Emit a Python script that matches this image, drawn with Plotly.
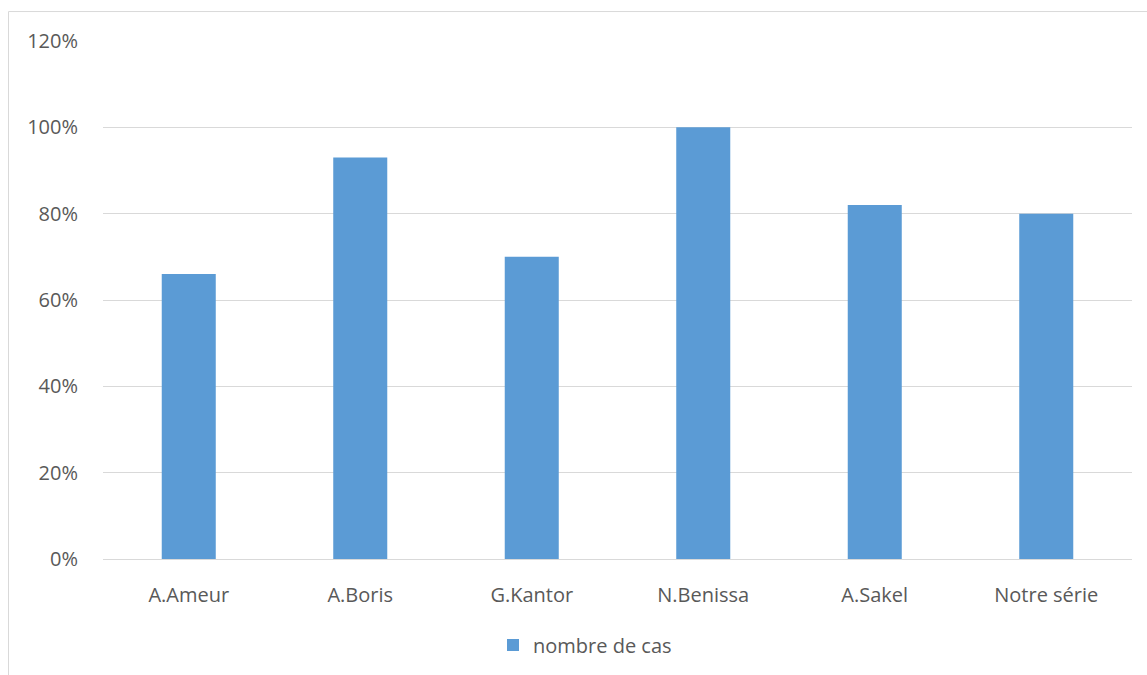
import plotly.graph_objects as go

categories = ["A.Ameur", "A.Boris", "G.Kantor", "N.Benissa", "A.Sakel", "Notre série"]
values = [0.66, 0.93, 0.70, 1.00, 0.82, 0.80]
series_name = "nombre de cas"

W, H = 1147, 675
L, R, T, B = 103, 15, 41, 115
font_family = "Open Sans, Liberation Sans, sans-serif"
txt = "#595959"
FS = 20

fig = go.Figure()
fig.add_trace(go.Bar(
    x=categories, y=values, name=series_name,
    marker=dict(color="#5b9bd5", line=dict(width=0)),
    showlegend=True,
))

plot_w = W - L - R
plot_h = H - T - B
fig.update_layout(
    width=W, height=H,
    margin=dict(l=L, r=R, t=T, b=B, pad=0),
    paper_bgcolor="white", plot_bgcolor="white",
    bargap=0.685,
    font=dict(family=font_family, size=FS, color=txt),
    showlegend=True,
    legend=dict(
        orientation="h", x=(493 - L) / plot_w, xanchor="left",
        y=(H - B - 645) / plot_h, yanchor="middle",
        font=dict(size=FS, color=txt), itemwidth=30,
        bgcolor="rgba(0,0,0,0)",
    ),
    xaxis=dict(
        showgrid=False, showline=True, linecolor="#d9d9d9", linewidth=1,
        ticks="", tickfont=dict(size=FS, color=txt), ticklabelstandoff=18,
        fixedrange=True,
    ),
    yaxis=dict(
        range=[0, 1.2], dtick=0.2, tickformat=".0%",
        showgrid=True, gridcolor="#d9d9d9", gridwidth=1,
        zeroline=False, showline=False, ticks="",
        tickfont=dict(size=FS, color=txt), ticklabelstandoff=24,
        fixedrange=True,
    ),
    shapes=[dict(
        type="rect", xref="paper", yref="paper",
        x0=(8.5 - L) / plot_w, x1=(W + 20 - L) / plot_w,
        y0=(H - B - (H + 20)) / plot_h, y1=(H - B - 11.5) / plot_h,
        line=dict(color="#d9d9d9", width=1), fillcolor="rgba(0,0,0,0)",
        layer="below",
    )],
)

fig.write_html("out.html", config={"displayModeBar": False})
